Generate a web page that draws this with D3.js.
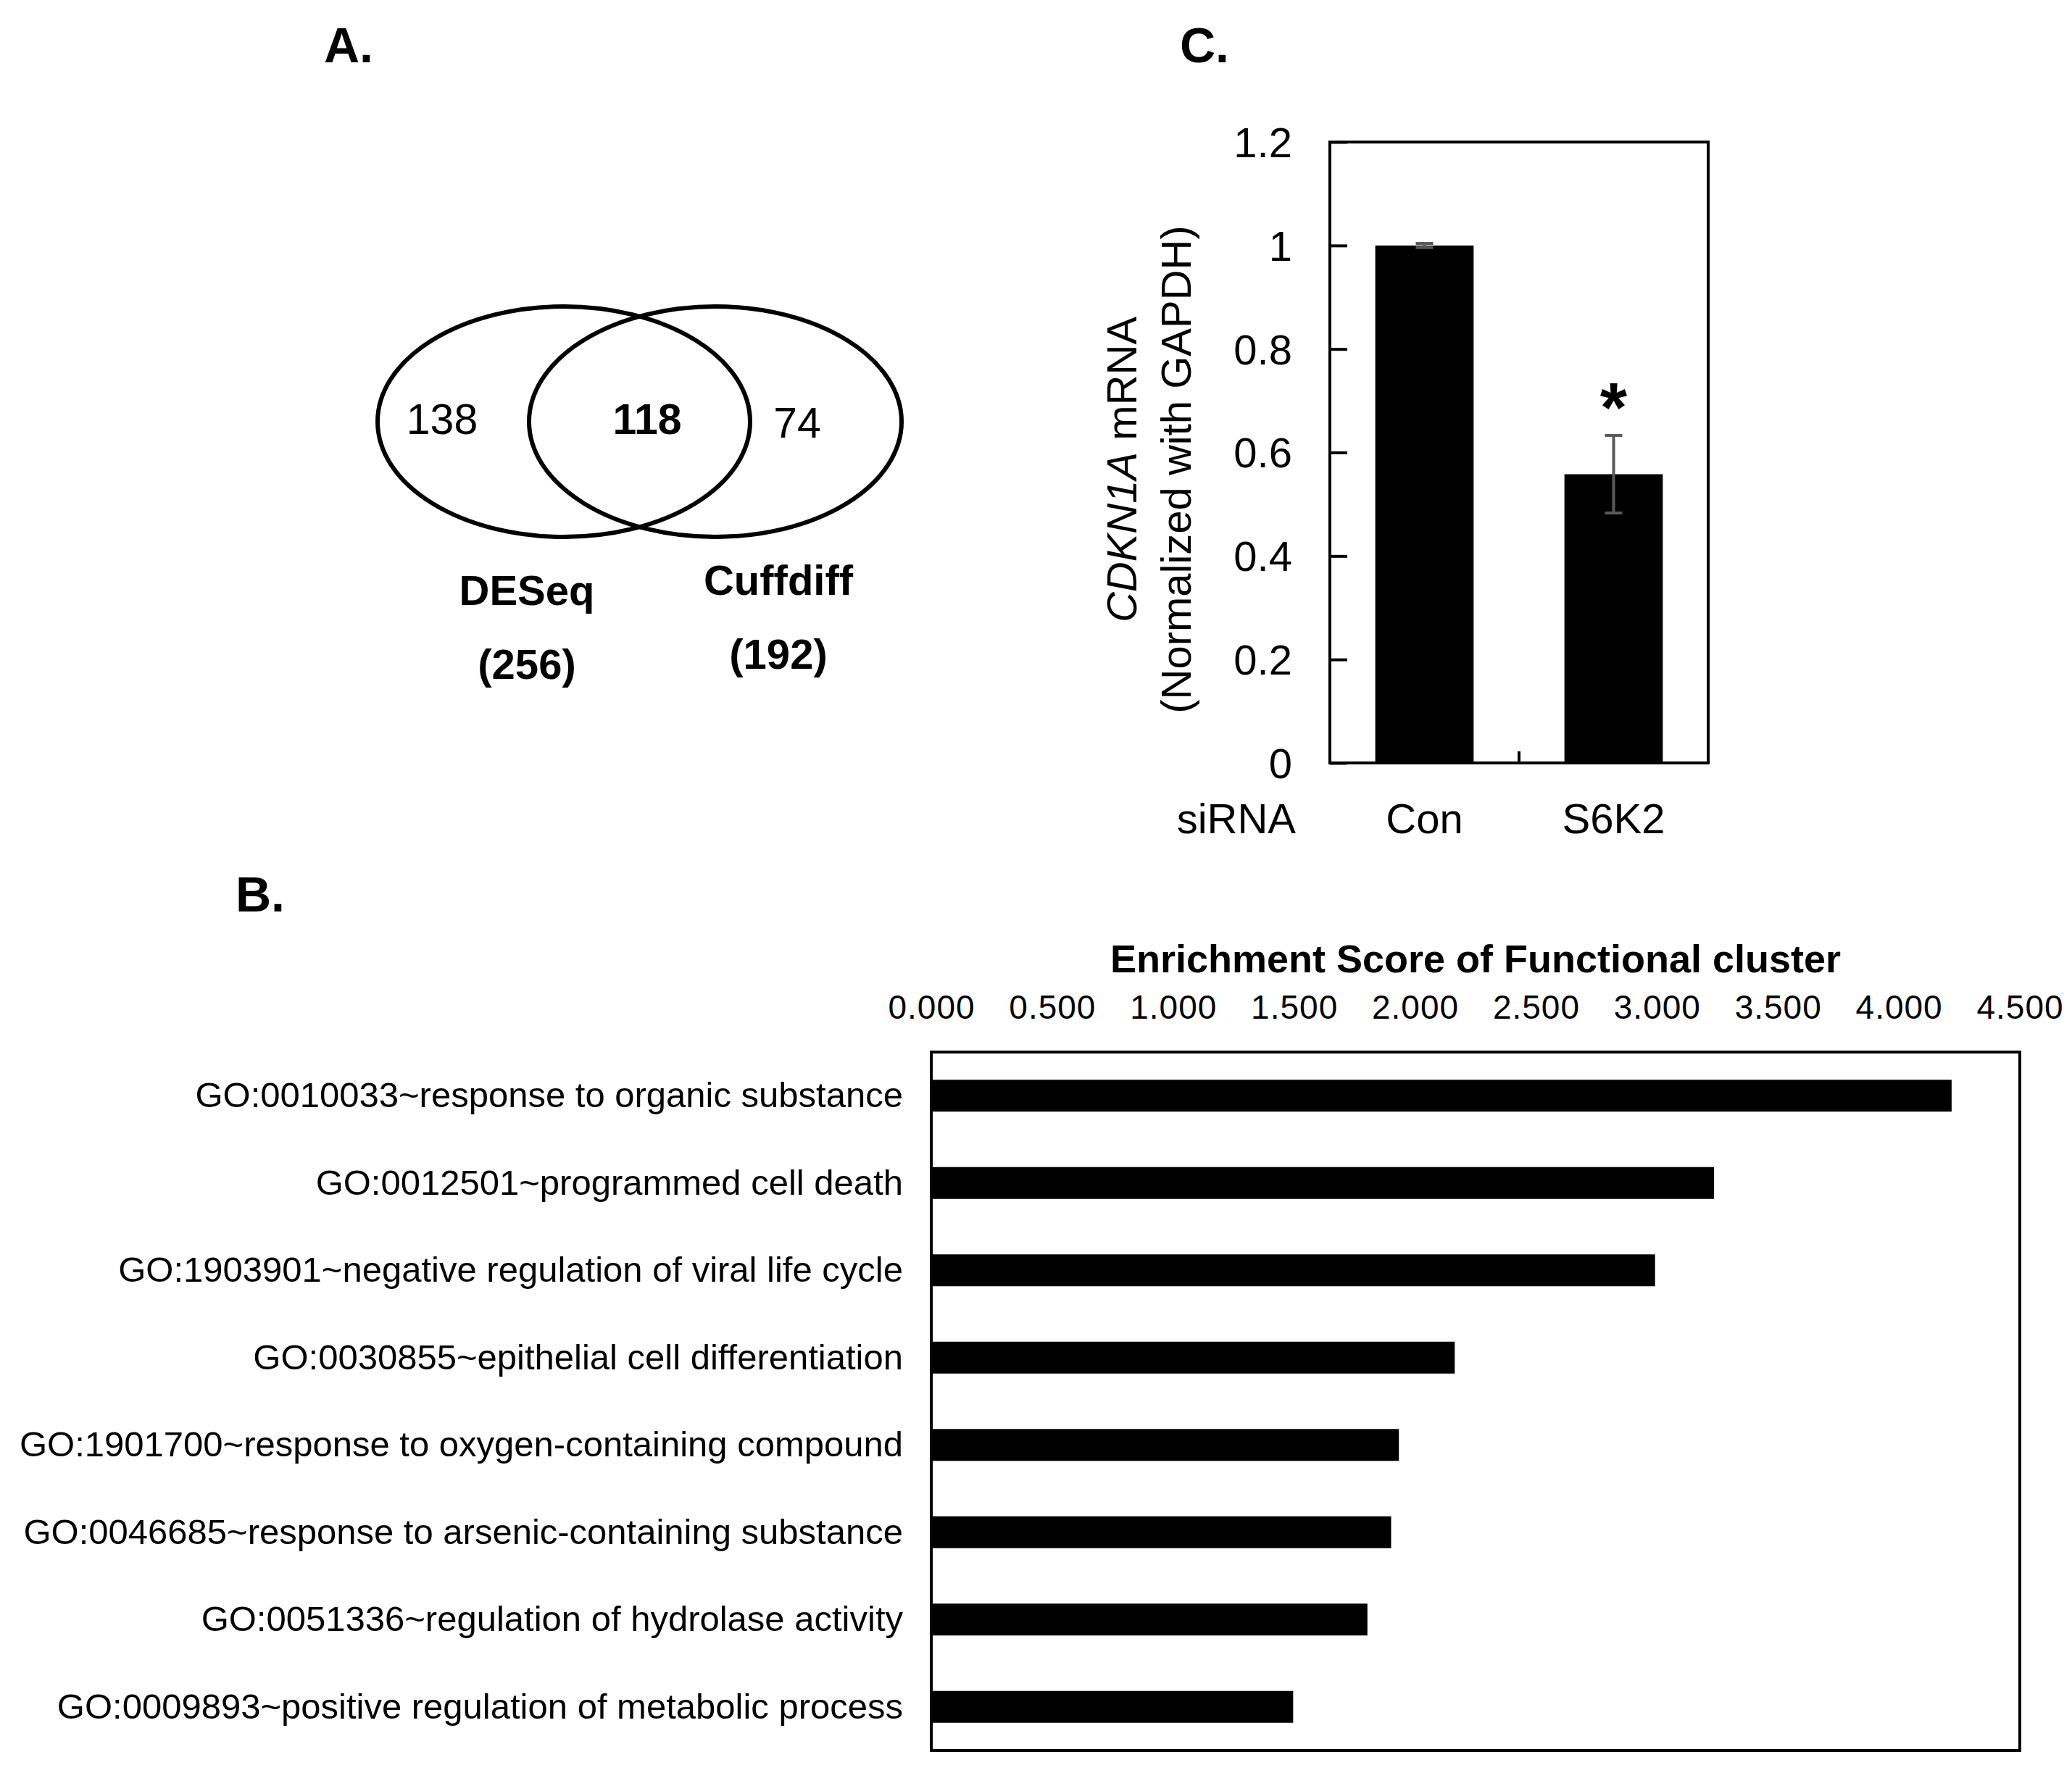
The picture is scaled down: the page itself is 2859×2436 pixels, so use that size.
<!DOCTYPE html>
<html>
<head>
<meta charset="utf-8">
<title>DEG overlap, GO enrichment and CDKN1A mRNA</title>
<style>
  body { margin: 0; background: #fff; }
  text { font-family: "Liberation Sans", Arial, sans-serif; fill: #000; }
</style>
</head>
<body>
<script src="https://cdn.jsdelivr.net/npm/d3@7"></script>
<script>

// ---- data ----
var vennSets   = ["DESeq", "Cuffdiff"];
var vennTotals = [256, 192];
var vennCounts = [138, 118, 74];   // DESeq only, both, Cuffdiff only

var goTerms = [
  "GO:0010033~response to organic substance",
  "GO:0012501~programmed cell death",
  "GO:1903901~negative regulation of viral life cycle",
  "GO:0030855~epithelial cell differentiation",
  "GO:1901700~response to oxygen-containing compound",
  "GO:0046685~response to arsenic-containing substance",
  "GO:0051336~regulation of hydrolase activity",
  "GO:0009893~positive regulation of metabolic process"
];
var enrichScores = [4.218, 3.236, 2.992, 2.164, 1.933, 1.901, 1.803, 1.496];
var enrichTicks  = [0, 0.5, 1, 1.5, 2, 2.5, 3, 3.5, 4, 4.5];

var siRNA     = ["Con", "S6K2"];
var mrnaMean  = [1.0, 0.558];
var mrnaErr   = [0.004, 0.075];
var mrnaTicks = [0, 0.2, 0.4, 0.6, 0.8, 1, 1.2];
var signif    = ["", "*"];

var W = 2859, H = 2436;
var svg = d3.select("body").append("svg")
    .attr("width", W)
    .attr("height", H);

function panelLabel(txt, x, y) {
  svg.append("text")
      .attr("x", x).attr("y", y)
      .attr("font-size", 68)
      .attr("font-weight", "bold")
      .text(txt);
}

// ---- A: venn ----
panelLabel("A.", 447, 86);

var venn = svg.append("g");
var vx = d3.scalePoint().domain(vennSets).range([778, 987]);
var vcy = 582, vrx = 257, vry = 159;

venn.selectAll("ellipse")
    .data(vennSets)
  .enter().append("ellipse")
    .attr("cx", function(d) { return vx(d); })
    .attr("cy", vcy)
    .attr("rx", vrx)
    .attr("ry", vry)
    .style("fill", "none")
    .style("stroke", "#000")
    .style("stroke-width", 6);

var regionX = [610, 893, 1100], regionY = [599, 599, 604];
venn.selectAll("text.count")
    .data(vennCounts)
  .enter().append("text")
    .attr("class", "count")
    .attr("x", function(d, i) { return regionX[i]; })
    .attr("y", function(d, i) { return regionY[i]; })
    .attr("text-anchor", "middle")
    .attr("font-size", 59)
    .attr("font-weight", function(d, i) { return i == 1 ? "bold" : "normal"; })
    .text(function(d) { return d; });

var nameX = [727, 1074], nameY = [835, 821];
venn.selectAll("text.setname")
    .data(vennSets)
  .enter().append("text")
    .attr("class", "setname")
    .attr("x", function(d, i) { return nameX[i]; })
    .attr("y", function(d, i) { return nameY[i]; })
    .attr("text-anchor", "middle")
    .attr("font-size", 58)
    .attr("font-weight", "bold")
    .text(function(d) { return d; });

venn.selectAll("text.total")
    .data(vennTotals)
  .enter().append("text")
    .attr("class", "total")
    .attr("x", function(d, i) { return nameX[i]; })
    .attr("y", function(d, i) { return nameY[i] + 102; })
    .attr("text-anchor", "middle")
    .attr("font-size", 58)
    .attr("font-weight", "bold")
    .text(function(d) { return "(" + d + ")"; });

// ---- C: qPCR bars ----
panelLabel("C.", 1628, 86);

var cL = 1835, cR = 2357, cT = 196, cB = 1053;
var cx = d3.scaleBand().domain(siRNA).range([cL, cR]).paddingInner(0.48).paddingOuter(0.24);
var cy = d3.scaleLinear().domain([0, 1.2]).range([cB, cT]);
var pc = svg.append("g");

pc.selectAll("rect.bar")
    .data(siRNA)
  .enter().append("rect")
    .attr("class", "bar")
    .attr("x", function(d) { return cx(d); })
    .attr("width", cx.bandwidth())
    .attr("y", function(d, i) { return cy(mrnaMean[i]); })
    .attr("height", function(d, i) { return cB - cy(mrnaMean[i]); })
    .style("fill", "#000");

// error bars
var eb = pc.selectAll("g.err")
    .data(siRNA)
  .enter().append("g")
    .attr("class", "err")
    .attr("transform", function(d) { return "translate(" + (cx(d) + cx.bandwidth() / 2) + ",0)"; });
eb.append("line")
    .attr("y1", function(d, i) { return cy(mrnaMean[i] - mrnaErr[i]); })
    .attr("y2", function(d, i) { return cy(mrnaMean[i] + mrnaErr[i]); });
eb.append("line")
    .attr("x1", -12).attr("x2", 12)
    .attr("y1", function(d, i) { return cy(mrnaMean[i] + mrnaErr[i]); })
    .attr("y2", function(d, i) { return cy(mrnaMean[i] + mrnaErr[i]); });
eb.append("line")
    .attr("x1", -12).attr("x2", 12)
    .attr("y1", function(d, i) { return cy(mrnaMean[i] - mrnaErr[i]); })
    .attr("y2", function(d, i) { return cy(mrnaMean[i] - mrnaErr[i]); });
eb.selectAll("line")
    .style("stroke", "#595959")
    .style("stroke-width", 4);

eb.append("text")
    .attr("y", function(d, i) { return cy(mrnaMean[i] + mrnaErr[i]) - 6; })
    .attr("text-anchor", "middle")
    .attr("font-size", 96)
    .attr("font-weight", "bold")
    .text(function(d, i) { return signif[i]; });

// y axis: inner ticks
var yAxisC = pc.append("g")
    .attr("transform", "translate(" + cL + ",0)")
    .call(d3.axisRight(cy).tickValues(mrnaTicks).tickSize(24).tickFormat(""));
yAxisC.select(".domain").remove();
yAxisC.selectAll("line").style("stroke", "#000").style("stroke-width", 4);

pc.selectAll("text.ytick")
    .data(mrnaTicks)
  .enter().append("text")
    .attr("class", "ytick")
    .attr("x", 1783)
    .attr("y", function(d) { return cy(d); })
    .attr("dy", "0.36em")
    .attr("text-anchor", "end")
    .attr("font-size", 58)
    .text(function(d) { return String(+d.toFixed(1)); });

// category divider tick at bottom
pc.append("line")
    .attr("x1", (cL + cR) / 2).attr("x2", (cL + cR) / 2)
    .attr("y1", cB).attr("y2", cB - 16)
    .style("stroke", "#000").style("stroke-width", 4);

pc.append("rect")
    .attr("x", cL).attr("y", cT)
    .attr("width", cR - cL).attr("height", cB - cT)
    .style("fill", "none").style("stroke", "#000").style("stroke-width", 4);

pc.selectAll("text.xcat")
    .data(siRNA)
  .enter().append("text")
    .attr("class", "xcat")
    .attr("x", function(d) { return cx(d) + cx.bandwidth() / 2; })
    .attr("y", 1150)
    .attr("text-anchor", "middle")
    .attr("font-size", 58)
    .text(function(d) { return d; });

pc.append("text")
    .attr("x", 1788).attr("y", 1150)
    .attr("text-anchor", "end")
    .attr("font-size", 58)
    .text("siRNA");

var ytl = pc.append("text")
    .attr("transform", "translate(1568,648) rotate(-90)")
    .attr("text-anchor", "middle")
    .attr("font-size", 58);
ytl.append("tspan").style("font-style", "italic").text("CDKN1A");
ytl.append("tspan").text(" mRNA");

pc.append("text")
    .attr("transform", "translate(1643,648) rotate(-90)")
    .attr("text-anchor", "middle")
    .attr("font-size", 58)
    .text("(Normalized with GAPDH)");

// ---- B: enrichment bars ----
panelLabel("B.", 325, 1258);

var bL = 1285, bR = 2787, bT = 1452, bB = 2416;
var bx = d3.scaleLinear().domain([0, 4.5]).range([bL, bR]);
var by = d3.scaleBand().domain(goTerms).range([bT, bB]).paddingInner(0.635).paddingOuter(0.3175);
var pb = svg.append("g");

pb.selectAll("rect.bar")
    .data(goTerms)
  .enter().append("rect")
    .attr("class", "bar")
    .attr("x", bL)
    .attr("y", function(d) { return by(d); })
    .attr("height", by.bandwidth())
    .attr("width", function(d, i) { return bx(enrichScores[i]) - bL; })
    .style("fill", "#000");

pb.append("rect")
    .attr("x", bL).attr("y", bT)
    .attr("width", bR - bL).attr("height", bB - bT)
    .style("fill", "none").style("stroke", "#000").style("stroke-width", 4);

var xAxisB = pb.append("g")
    .attr("transform", "translate(0," + bT + ")")
    .call(d3.axisTop(bx).tickValues(enrichTicks).tickSize(0).tickPadding(46).tickFormat(d3.format(".3f")));
xAxisB.select(".domain").remove();
xAxisB.selectAll("text")
    .attr("font-family", null)
    .attr("font-size", 46)
    .style("letter-spacing", "1px")
    .style("fill", "#000");

pb.append("text")
    .attr("x", (bL + bR) / 2).attr("y", 1342)
    .attr("text-anchor", "middle")
    .attr("font-size", 54)
    .attr("font-weight", "bold")
    .text("Enrichment Score of Functional cluster");

pb.selectAll("text.cat")
    .data(goTerms)
  .enter().append("text")
    .attr("class", "cat")
    .attr("x", 1246)
    .attr("y", function(d) { return by(d) + by.bandwidth() / 2; })
    .attr("dy", "0.33em")
    .attr("text-anchor", "end")
    .attr("font-size", 49)
    .text(function(d) { return d; });

</script>
</body>
</html>
